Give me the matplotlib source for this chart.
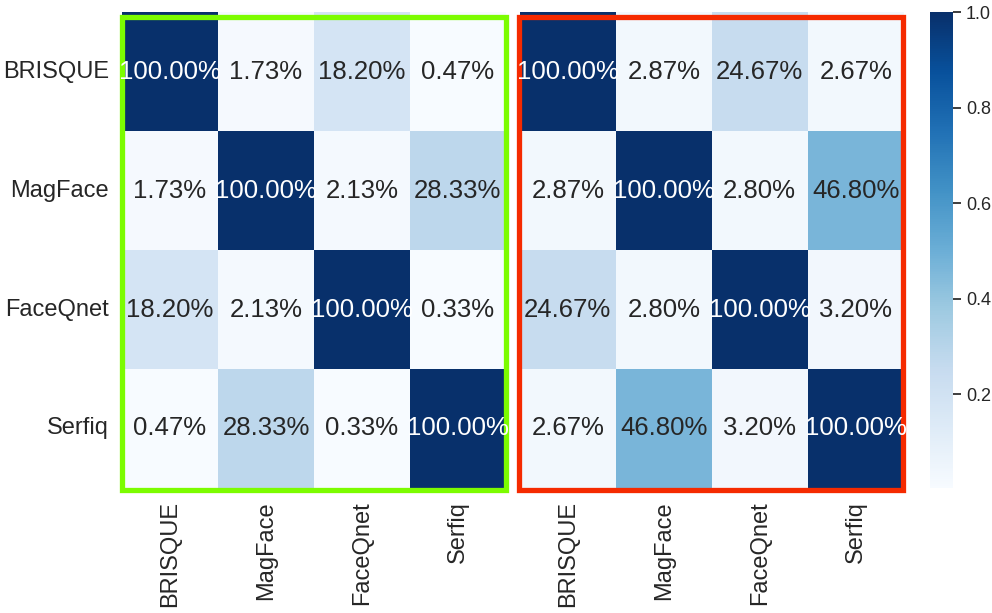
import matplotlib
matplotlib.use("Agg")
from matplotlib import pyplot as plt
from matplotlib.patches import Rectangle
import numpy as np
import seaborn as sns

methods = ['BRISQUE', 'MagFace', 'FaceQnet', 'Serfiq']

# overlap ratios, left block
left_vals = np.array([
    [1.0000, 0.0173, 0.1820, 0.0047],
    [0.0173, 1.0000, 0.0213, 0.2833],
    [0.1820, 0.0213, 1.0000, 0.0033],
    [0.0047, 0.2833, 0.0033, 1.0000],
])

# overlap ratios, right block
right_vals = np.array([
    [1.0000, 0.0287, 0.2467, 0.0267],
    [0.0287, 1.0000, 0.0280, 0.4680],
    [0.2467, 0.0280, 1.0000, 0.0320],
    [0.0267, 0.4680, 0.0320, 1.0000],
])

cbar_ticks = [0.2, 0.4, 0.6, 0.8, 1.0]

sns.set_theme(style='white')
plt.rcParams['font.family'] = ['Liberation Sans', 'DejaVu Sans']

fig = plt.figure(figsize=(9.92, 6.13), dpi=100)
ax1 = fig.add_axes([0.123, 0.204, 0.387, 0.776])
ax2 = fig.add_axes([0.524, 0.204, 0.387, 0.776])
cax = fig.add_axes([0.9375, 0.204, 0.023, 0.776])

vmin = min(left_vals.min(), right_vals.min())

sns.heatmap(left_vals, ax=ax1, cmap='Blues', vmin=vmin, vmax=1.0,
            annot=True, fmt='.2%', annot_kws={'fontsize': 18.5},
            cbar=False, xticklabels=methods, yticklabels=methods)
sns.heatmap(right_vals, ax=ax2, cmap='Blues', vmin=vmin, vmax=1.0,
            annot=True, fmt='.2%', annot_kws={'fontsize': 18.5},
            cbar=True, cbar_ax=cax, xticklabels=methods, yticklabels=False)

ax1.tick_params(axis='y', labelsize=17, rotation=0)
ax1.tick_params(axis='x', labelsize=17, rotation=90)
ax2.tick_params(axis='x', labelsize=17, rotation=90)
cax.set_yticks(cbar_ticks)
cax.tick_params(labelsize=13)

# frames around the two blocks
ax1.add_patch(Rectangle((0.0, -0.005), 1.0, 0.995, transform=ax1.transAxes,
                        fill=False, edgecolor='#7cfc00', lw=3.8, clip_on=False))
ax2.add_patch(Rectangle((-0.002, -0.005), 1.0, 0.995, transform=ax2.transAxes,
                        fill=False, edgecolor='#f52a00', lw=3.8, clip_on=False))

fig.savefig('out.png', dpi=100)
